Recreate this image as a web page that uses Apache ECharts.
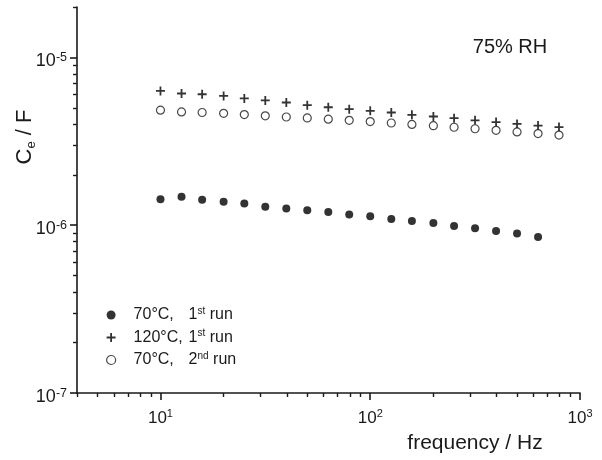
<!DOCTYPE html>
<html>
<head>
<meta charset="utf-8">
<script src="https://cdn.jsdelivr.net/npm/echarts@6/dist/echarts.min.js"></script>
<style>html,body{margin:0;padding:0;background:#fff}#c{width:602px;height:460px}</style>
</head>
<body>
<div id="c"></div>
<script>
// ---- data ----
const frequency = [10, 12.6, 15.8, 20, 25.1, 31.6, 39.8, 50.1, 63.1, 79.4, 100, 126, 158, 200, 251, 316, 398, 501, 631, 794];
const c70first  = [1.43e-6, 1.48e-6, 1.42e-6, 1.38e-6, 1.35e-6, 1.29e-6, 1.26e-6, 1.23e-6, 1.20e-6, 1.16e-6, 1.13e-6, 1.09e-6, 1.06e-6, 1.03e-6, 0.99e-6, 0.96e-6, 0.925e-6, 0.893e-6, 0.851e-6];
const c120first = [6.32e-6, 6.10e-6, 6.04e-6, 5.90e-6, 5.70e-6, 5.55e-6, 5.39e-6, 5.20e-6, 5.05e-6, 4.92e-6, 4.81e-6, 4.70e-6, 4.55e-6, 4.45e-6, 4.35e-6, 4.22e-6, 4.12e-6, 4.02e-6, 3.93e-6, 3.85e-6];
const c70second = [4.85e-6, 4.74e-6, 4.70e-6, 4.65e-6, 4.57e-6, 4.49e-6, 4.42e-6, 4.36e-6, 4.29e-6, 4.22e-6, 4.15e-6, 4.07e-6, 3.99e-6, 3.92e-6, 3.84e-6, 3.76e-6, 3.68e-6, 3.60e-6, 3.52e-6, 3.45e-6];
const seriesNames = ['70°C, 1st run', '120°C, 1st run', '70°C, 2nd run'];
const legendParts = [['70°C,', '1', 'st', ' run'], ['120°C,', '1', 'st', ' run'], ['70°C,', '2', 'nd', ' run']];
const xMajor = [10, 100, 1000];
const xMinor = [4, 5, 6, 7, 8, 9, 20, 30, 40, 50, 60, 70, 80, 90, 200, 300, 400, 500, 600, 700, 800, 900];
const yMajor = [1e-7, 1e-6, 1e-5];
const yMinor = [2e-7, 3e-7, 4e-7, 5e-7, 6e-7, 7e-7, 8e-7, 9e-7, 2e-6, 3e-6, 4e-6, 5e-6, 6e-6, 7e-6, 8e-6, 9e-6, 2e-5];

const FONT = '"Liberation Sans", Arial, sans-serif';
const INK = '#1a1a1a';
const pairs = vals => vals.map((v, i) => [frequency[i], v]);
const expLabel = v => '{b|10}{s|' + Math.round(Math.log10(v)) + '}';
const xRich = {
  b: { fontSize: 17, fontFamily: FONT, color: INK, lineHeight: 20 },
  s: { fontSize: 11, fontFamily: FONT, color: INK, verticalAlign: 'top', lineHeight: 20, padding: [0, 0, 9, 0] }
};
const yRich = {
  b: { fontSize: 18, fontFamily: FONT, color: INK, lineHeight: 20 },
  s: { fontSize: 12.5, fontFamily: FONT, color: INK, verticalAlign: 'top', lineHeight: 20, padding: [0, 0, 9, 0] }
};
const plusPath = 'path://M3.6,0H5.4V3.6H9V5.4H5.4V9H3.6V5.4H0V3.6H3.6Z';

const chart = echarts.init(document.getElementById('c'), null, { renderer: 'canvas' });
chart.setOption({
  animation: false,
  backgroundColor: '#fff',
  textStyle: { fontFamily: FONT, color: INK },
  grid: { left: 77, right: 22, top: 7, bottom: 67 },
  xAxis: [{
    type: 'log', logBase: 10, min: 4, max: 1000,
    axisLine: { show: true, lineStyle: { color: INK, width: 1.6 } },
    axisTick: { show: true, inside: false, length: 7, customValues: xMajor, lineStyle: { color: INK, width: 1.6 } },
    axisLabel: { show: true, customValues: xMajor, margin: 15, formatter: expLabel, rich: xRich },
    splitLine: { show: false }
  }, {
    type: 'log', logBase: 10, min: 4, max: 1000, position: 'bottom', gridIndex: 0,
    axisLine: { show: false },
    axisTick: { show: true, inside: false, length: 4, customValues: xMinor, lineStyle: { color: INK, width: 1.4 } },
    axisLabel: { show: false },
    splitLine: { show: false }
  }],
  yAxis: [{
    type: 'log', logBase: 10, min: 1e-7, max: 2e-5,
    axisLine: { show: true, lineStyle: { color: INK, width: 1.6 } },
    axisTick: { show: true, inside: false, length: 7, customValues: yMajor, lineStyle: { color: INK, width: 1.6 } },
    axisLabel: { show: true, customValues: yMajor, margin: 10, padding: [8, 0, 0, 0], formatter: expLabel, rich: yRich },
    splitLine: { show: false }
  }, {
    type: 'log', logBase: 10, min: 1e-7, max: 2e-5, position: 'left', offset: 0, gridIndex: 0,
    axisLine: { show: false },
    axisTick: { show: true, inside: false, length: 4, customValues: yMinor, lineStyle: { color: INK, width: 1.4 } },
    axisLabel: { show: false },
    splitLine: { show: false }
  }],
  legend: {
    orient: 'vertical', left: 101, top: 301, itemWidth: 9, itemHeight: 9, itemGap: 5.5,
    selectedMode: false,
    data: [
      { name: seriesNames[0] },
      { name: seriesNames[1] },
      { name: seriesNames[2], itemStyle: { borderWidth: 1.2, borderColor: INK, color: '#fff' } }
    ],
    formatter: name => {
      const p = legendParts[seriesNames.indexOf(name)];
      return '{a|' + p[0] + '}{n|' + p[1] + '}{s|' + p[2] + '}{n|' + p[3] + '}';
    },
    textStyle: {
      rich: {
        a: { fontSize: 16, fontFamily: FONT, color: INK, width: 55, lineHeight: 18, padding: [0, 0, 0, 13] },
        n: { fontSize: 16, fontFamily: FONT, color: INK, lineHeight: 18 },
        s: { fontSize: 10, fontFamily: FONT, color: INK, verticalAlign: 'top', lineHeight: 18, padding: [0, 0, 7, 0] }
      }
    }
  },
  series: [{
    name: seriesNames[0], type: 'scatter', symbol: 'circle', symbolSize: 8,
    itemStyle: { color: '#000' }, data: pairs(c70first)
  }, {
    name: seriesNames[1], type: 'scatter', symbol: plusPath, symbolSize: 9, symbolKeepAspect: true,
    itemStyle: { color: '#000' }, data: pairs(c120first)
  }, {
    name: seriesNames[2], type: 'scatter', symbol: 'circle', symbolSize: 8,
    itemStyle: { color: '#fff', borderColor: INK, borderWidth: 1.2 }, data: pairs(c70second)
  }],
  graphic: [{
    type: 'text', x: 510, y: 47,
    style: { text: '75% RH', font: '20px ' + FONT, fill: INK, align: 'center', verticalAlign: 'middle' }
  }, {
    type: 'text', x: 475, y: 443,
    style: { text: 'frequency / Hz', font: '21px ' + FONT, fill: INK, align: 'center', verticalAlign: 'middle' }
  }, {
    type: 'text', x: 25, y: 137, rotation: Math.PI / 2,
    style: {
      text: '{m|C}{e|e}{m| / F}', align: 'center', verticalAlign: 'middle',
      rich: {
        m: { fontSize: 22, fontFamily: FONT, fill: INK, lineHeight: 26 },
        e: { fontSize: 13, fontFamily: FONT, fill: INK, verticalAlign: 'bottom', lineHeight: 26, padding: [6, 0, 0, 0] }
      }
    }
  }]
});
</script>
</body>
</html>
